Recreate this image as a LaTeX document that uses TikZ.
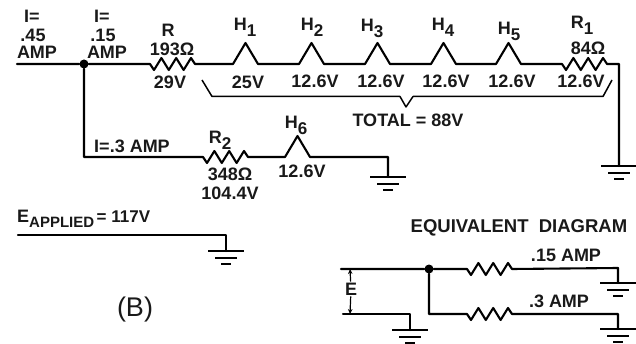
\documentclass[tikz,border=0pt]{standalone}
\usepackage{fontspec}
\setmainfont{Liberation Sans}
\usetikzlibrary{arrows.meta}
\newcommand{\zigpath}{-- ++(4,6) -- ++(7.4,-12) -- ++(7.4,12) -- ++(7.4,-12) -- ++(7.4,12) -- ++(7.4,-12) -- ++(4,6)}
\newcommand{\humppath}{-- ++(12.5,-21) -- ++(12.5,21)}
\newcommand{\subs}[1]{\raisebox{-6pt}{\fontsize{17}{17}\selectfont #1}}
\tikzset{
  wire/.style={line width=2.1pt,line join=round,line cap=round},
  thin wire/.style={line width=1.5pt,line join=round},
  lab/.style={font=\fontsize{18}{18}\selectfont\bfseries,inner sep=0pt,text=black!90},
  groundbar/.style={line width=1.9pt},
  dotj/.style={circle,fill=black,inner sep=0pt,minimum size=9pt},
  gnd/.pic={
    \draw[groundbar] (-18,0) -- (18,0);
    \draw[groundbar] (-11,7) -- (11,7);
    \draw[line width=2.4pt] (-5,13) -- (5,13);
  }
}
\begin{document}
\begin{tikzpicture}[x=1pt,y=-1pt]
\useasboundingbox (0,0) rectangle (636,344);
% top series chain
\node[dotj] (J1) at (84,64) {};
\coordinate (in) at (17,64);
\coordinate (R0) at (150,64);
\coordinate (H1) at (233,64);
\coordinate (H2) at (299,64);
\coordinate (H3) at (365,64);
\coordinate (H4) at (431,64);
\coordinate (H5) at (496,64);
\coordinate (R1) at (562,64);
\coordinate (corner) at (619,64);
\coordinate (G1) at (619,166);
\draw[wire] (in) -- (J1) -- (R0) \zigpath -- (H1) \humppath -- (H2) \humppath -- (H3) \humppath -- (H4) \humppath -- (H5) \humppath -- (R1) \zigpath -- (corner) -- (G1);
\pic at (G1) {gnd};
% lower branch
\coordinate (L1) at (84,157);
\coordinate (R2) at (203,157);
\coordinate (H6) at (285,157);
\coordinate (L2) at (388,157);
\coordinate (G2) at (388,177);
\draw[wire] (J1) -- (L1) -- (R2) \zigpath -- (H6) \humppath -- (L2) -- (G2);
\pic at (G2) {gnd};
% brace
\coordinate (b1) at (202,80);
\coordinate (b2) at (212,96.5);
\coordinate (b3) at (400,96.5);
\coordinate (b4) at (406,107);
\coordinate (b5) at (413,96.5);
\coordinate (b6) at (603,96.5);
\coordinate (b7) at (612,80);
\draw[thin wire] (b1) -- (b2) -- (b3) -- (b4) -- (b5) -- (b6) -- (b7);
% applied
\coordinate (A0) at (18,235);
\coordinate (A1) at (226,235);
\coordinate (G3) at (226,251);
\draw[wire] (A0) -- (A1) -- (G3);
\pic at (G3) {gnd};
% equivalent
\node[dotj] (J2) at (429,269) {};
\coordinate (E0) at (341,269);
\coordinate (Q1) at (467,269);
\coordinate (Q2) at (618,268);
\coordinate (G4) at (618,283);
\coordinate (Q3) at (429,314);
\coordinate (Q4) at (467,314);
\coordinate (Q5) at (618,314);
\coordinate (G5) at (618,329);
\coordinate (E1) at (343,314);
\coordinate (E2) at (410,314);
\coordinate (G6) at (410,330);
\draw[wire] (E0) -- (J2) -- (Q1) \zigpath -- (Q2) -- (G4);
\pic at (G4) {gnd};
\draw[wire] (J2) -- (Q3) -- (Q4) \zigpath -- (Q5) -- (G5);
\pic at (G5) {gnd};
\draw[wire] (E1) -- (E2) -- (G6);
\pic at (G6) {gnd};
\node[lab,fill=white,inner ysep=1pt] (Elab) at (351,289) {E};
\coordinate (Et) at (350,269);
\coordinate (Eb) at (350,314);
\draw[line width=1.2pt,-{Stealth[length=5pt,width=4.5pt]}] (Elab) -- (Et);
\draw[line width=1.2pt,-{Stealth[length=5pt,width=4.5pt]}] (Elab) -- (Eb);
% labels
\node[lab] (t1) at (32,16) {I=};
\node[lab] (t2) at (33,35) {.45};
\node[lab] (t3) at (37,52) {AMP};
\node[lab] (t4) at (102,16) {I=};
\node[lab] (t5) at (103,35) {.15};
\node[lab] (t6) at (107,52) {AMP};
\node[lab] (t7) at (168,30) {R};
\node[lab] (t8) at (172,49) {193Ω};
\node[lab] (t9) at (170,82) {29V};
\node[lab] (h1) at (245,27) {H\subs{1}};
\node[lab] (v1) at (248,82) {25V};
\node[lab] (h2) at (312,27) {H\subs{2}};
\node[lab] (v2) at (315,81) {12.6V};
\node[lab] (h3) at (372,28) {H\subs{3}};
\node[lab] (v3) at (381,81) {12.6V};
\node[lab] (h4) at (443,27) {H\subs{4}};
\node[lab] (v4) at (446,81) {12.6V};
\node[lab] (h5) at (509,31) {H\subs{5}};
\node[lab] (v5) at (512,81) {12.6V};
\node[lab] (r1) at (582,25) {R\subs{1}};
\node[lab] (o1) at (588,48) {84Ω};
\node[lab] (v6) at (581,81) {12.6V};
\node[lab] (tot) at (408,120) {TOTAL = 88V};
\node[lab] (i3) at (132,146) {I=.3 AMP};
\node[lab] (r2) at (220,140) {R\subs{2}};
\node[lab] (o2) at (230,174) {348Ω};
\node[lab] (v7) at (230,193) {104.4V};
\node[lab] (h6) at (296,125) {H\subs{6}};
\node[lab] (v8) at (302,171) {12.6V};
\node[lab,anchor=west] (ea) at (17,219) {\raisebox{5pt}{E}\fontsize{15}{15}\selectfont APPLIED\,\raisebox{5pt}{\fontsize{17}{17}\selectfont = 117V}};
\node[lab,font=\fontsize{27}{27}\selectfont] (b) at (135,310) {(B)};
\node[lab,font=\fontsize{18.5}{18}\selectfont\bfseries] (eq) at (519,228) {EQUIVALENT\ \ DIAGRAM};
\node[lab] (q1) at (566,255) {.15 AMP};
\node[lab] (q2) at (559,301) {.3 AMP};
\end{tikzpicture}
\end{document}
